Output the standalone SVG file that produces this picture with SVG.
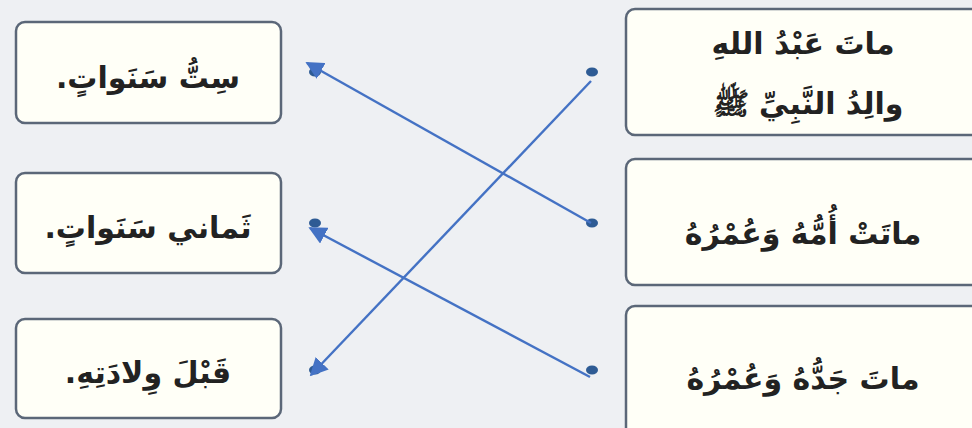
<svg xmlns="http://www.w3.org/2000/svg" width="972" height="428" viewBox="0 0 972 428">
<defs>
<style>
.box{fill:#fffff7;stroke:#5b6778;stroke-width:2.5}
.lbl{font-family:"DejaVu Sans",sans-serif;font-weight:bold;font-size:30px;fill:#222;text-anchor:middle;direction:rtl}
.dot{fill:#2e5b94}
.con{stroke:#4472c4;stroke-width:2.4;fill:none}
</style>
<marker id="ah" viewBox="0 0 10 10" refX="9" refY="5" markerWidth="18" markerHeight="18" markerUnits="userSpaceOnUse" orient="auto">
<path d="M0,0 L10,5 L0,10 z" fill="#4472c4"/>
</marker>
</defs>
<rect width="972" height="428" fill="#eef0f3"/>
<g id="left1"><rect class="box" x="16" y="22" width="265" height="101" rx="9"/><text class="lbl" x="148" y="88">سِتُّ سَنَواتٍ.</text></g>
<g id="left2"><rect class="box" x="16" y="173" width="265" height="100" rx="9"/><text class="lbl" x="148" y="238">ثَماني سَنَواتٍ.</text></g>
<g id="left3"><rect class="box" x="16" y="319" width="265" height="99" rx="9"/><text class="lbl" x="148" y="383">قَبْلَ وِلادَتِهِ.</text></g>
<g id="right1"><rect class="box" x="626" y="9" width="360" height="126" rx="9"/><text class="lbl" x="803" y="54">ماتَ عَبْدُ اللهِ</text><text class="lbl" x="808" y="114">والِدُ النَّبِيِّ ﷺ</text></g>
<g id="right2"><rect class="box" x="626" y="159" width="360" height="126" rx="9"/><text class="lbl" x="803" y="244">ماتَتْ أُمُّهُ وَعُمْرُهُ</text></g>
<g id="right3"><rect class="box" x="626" y="306" width="360" height="140" rx="9"/><text class="lbl" x="803" y="389">ماتَ جَدُّهُ وَعُمْرُهُ</text></g>
<g id="dots">
<ellipse class="dot" cx="315" cy="72" rx="6" ry="4.5"/>
<ellipse class="dot" cx="315" cy="223" rx="6" ry="4.5"/>
<ellipse class="dot" cx="315" cy="370" rx="6" ry="4.5"/>
<ellipse class="dot" cx="592" cy="72" rx="6" ry="4.5"/>
<ellipse class="dot" cx="592" cy="223" rx="6" ry="4.5"/>
<ellipse class="dot" cx="592" cy="370" rx="6" ry="4.5"/>
</g>
<g id="connectors">
<line class="con" x1="591" y1="81" x2="311" y2="375" marker-end="url(#ah)"/>
<line class="con" x1="591" y1="223" x2="307" y2="63" marker-end="url(#ah)"/>
<line class="con" x1="590" y1="377" x2="310" y2="228" marker-end="url(#ah)"/>
</g>
</svg>
